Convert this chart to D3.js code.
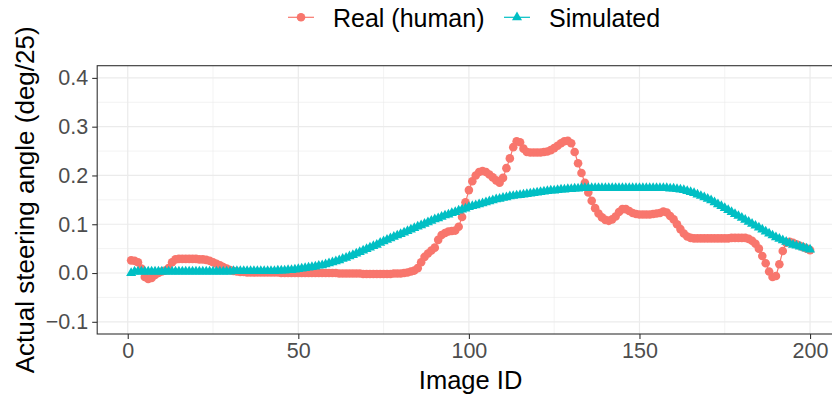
<!DOCTYPE html>
<html>
<head>
<meta charset="utf-8">
<script src="https://cdn.jsdelivr.net/npm/d3@7"></script>
<style>
  body { margin: 0; background: #fff; }
  text { font-family: "Liberation Sans", Arial, Helvetica, sans-serif; }
</style>
</head>
<body>
<div id="chart"></div>
<script>
// image ids 1..200
var imageIds = d3.range(1, 201);

var realSteer = [
  0.026, 0.025, 0.022, 0.009, -0.008, -0.012, -0.010, -0.004, 0.000, 0.003,
  0.005, 0.010, 0.022, 0.028, 0.029, 0.029, 0.029, 0.029, 0.029, 0.029,
  0.028, 0.028, 0.027, 0.025, 0.022, 0.019, 0.016, 0.012, 0.009, 0.006,
  0.004, 0.003, 0.002, 0.002, 0.001, 0.001, 0.001, 0.001, 0.001, 0.001,
  0.001, 0.001, 0.001, 0.001, 0.000, 0.000, 0.000, 0.000, 0.000, 0.000,
  0.000, 0.000, 0.000, 0.000, 0.000, 0.000, 0.000, 0.000, 0.000, 0.000,
  0.000, -0.001, -0.001, -0.001, -0.001, -0.001, -0.001, -0.001, -0.002, -0.002,
  -0.002, -0.002, -0.002, -0.002, -0.002, -0.002, -0.002, -0.001, -0.001, -0.001,
  0.000, 0.001, 0.003, 0.005, 0.010, 0.022, 0.033, 0.040, 0.046, 0.052,
  0.068, 0.078, 0.082, 0.085, 0.086, 0.087, 0.095, 0.115, 0.145, 0.170,
  0.188, 0.200, 0.207, 0.209, 0.207, 0.202, 0.196, 0.190, 0.185, 0.195,
  0.215, 0.235, 0.258, 0.270, 0.268, 0.255, 0.248, 0.247, 0.247, 0.247,
  0.247, 0.248, 0.249, 0.252, 0.256, 0.261, 0.266, 0.270, 0.271, 0.266,
  0.248, 0.225, 0.205, 0.185, 0.165, 0.148, 0.133, 0.122, 0.114, 0.109,
  0.107, 0.110, 0.116, 0.125, 0.131, 0.131, 0.127, 0.123, 0.121, 0.120,
  0.120, 0.120, 0.120, 0.121, 0.122, 0.123, 0.126, 0.124, 0.117, 0.110,
  0.100, 0.090, 0.081, 0.075, 0.072, 0.071, 0.071, 0.071, 0.071, 0.071,
  0.071, 0.071, 0.071, 0.071, 0.071, 0.071, 0.072, 0.072, 0.072, 0.072,
  0.072, 0.070, 0.066, 0.060, 0.050, 0.035, 0.020, 0.003, -0.008, -0.006,
  0.018, 0.045, 0.062, 0.064, 0.062, 0.059, 0.056, 0.053, 0.050, 0.047
];

var simSteer = [
  0.000, 0.003, 0.003, 0.003, 0.003, 0.003, 0.003, 0.003, 0.003, 0.003,
  0.003, 0.003, 0.003, 0.003, 0.003, 0.003, 0.003, 0.003, 0.003, 0.003,
  0.003, 0.003, 0.003, 0.003, 0.003, 0.003, 0.003, 0.003, 0.003, 0.003,
  0.004, 0.004, 0.004, 0.004, 0.004, 0.004, 0.004, 0.004, 0.004, 0.004,
  0.004, 0.004, 0.004, 0.005, 0.005, 0.005, 0.006, 0.006, 0.007, 0.008,
  0.009, 0.010, 0.011, 0.012, 0.013, 0.015, 0.016, 0.018, 0.020, 0.022,
  0.024, 0.026, 0.029, 0.031, 0.034, 0.037, 0.040, 0.043, 0.046, 0.049,
  0.052, 0.055, 0.058, 0.062, 0.065, 0.068, 0.071, 0.074, 0.077, 0.080,
  0.083, 0.086, 0.089, 0.092, 0.095, 0.098, 0.101, 0.104, 0.107, 0.110,
  0.112, 0.115, 0.118, 0.120, 0.123, 0.125, 0.128, 0.130, 0.132, 0.135,
  0.137, 0.139, 0.141, 0.143, 0.145, 0.147, 0.149, 0.151, 0.152, 0.154,
  0.155, 0.157, 0.158, 0.159, 0.160, 0.161, 0.162, 0.163, 0.164, 0.165,
  0.166, 0.167, 0.168, 0.169, 0.169, 0.170, 0.171, 0.171, 0.172, 0.172,
  0.173, 0.173, 0.174, 0.174, 0.174, 0.174, 0.174, 0.174, 0.174, 0.174,
  0.174, 0.174, 0.174, 0.174, 0.174, 0.174, 0.174, 0.174, 0.174, 0.174,
  0.174, 0.174, 0.174, 0.174, 0.174, 0.174, 0.174, 0.174, 0.173, 0.173,
  0.172, 0.171, 0.170, 0.168, 0.166, 0.164, 0.161, 0.158, 0.155, 0.152,
  0.149, 0.145, 0.141, 0.137, 0.133, 0.129, 0.125, 0.121, 0.117, 0.113,
  0.109, 0.105, 0.101, 0.097, 0.093, 0.089, 0.085, 0.081, 0.077, 0.073,
  0.070, 0.067, 0.064, 0.061, 0.058, 0.056, 0.054, 0.052, 0.050, 0.048
];

var seriesNames = ["Real (human)", "Simulated"];
var seriesColors = ["#F8766D", "#00BFC4"];

var xTicks = [0, 50, 100, 150, 200];
var xMinor = [25, 75, 125, 175];
var yTicks = [-0.1, 0, 0.1, 0.2, 0.3, 0.4];
var yTickLabels = ["\u22120.1", "0.0", "0.1", "0.2", "0.3", "0.4"];
var yMinor = [-0.05, 0.05, 0.15, 0.25, 0.35];

var W = 832, H = 401;
var pLeft = 97.2, pRight = 844, pTop = 65.7, pBottom = 334;

var x = d3.scaleLinear().domain([-8.95, 209.95]).range([pLeft, pRight]);
var y = d3.scaleLinear().domain([-0.125, 0.425]).range([pBottom, pTop]);

var svg = d3.select("#chart").append("svg")
  .attr("width", W)
  .attr("height", H);

svg.append("rect").attr("width", W).attr("height", H).attr("fill", "#fff");

// grid
var grid = svg.append("g");
grid.selectAll(".ymin").data(yMinor).enter().append("line")
  .attr("x1", pLeft).attr("x2", pRight)
  .attr("y1", function(d) { return y(d); }).attr("y2", function(d) { return y(d); })
  .attr("stroke", "#EBEBEB").attr("stroke-width", 0.6);
grid.selectAll(".xmin").data(xMinor).enter().append("line")
  .attr("y1", pTop).attr("y2", pBottom)
  .attr("x1", function(d) { return x(d); }).attr("x2", function(d) { return x(d); })
  .attr("stroke", "#EBEBEB").attr("stroke-width", 0.6);
grid.selectAll(".ymaj").data(yTicks).enter().append("line")
  .attr("x1", pLeft).attr("x2", pRight)
  .attr("y1", function(d) { return y(d); }).attr("y2", function(d) { return y(d); })
  .attr("stroke", "#EBEBEB").attr("stroke-width", 1.2);
grid.selectAll(".xmaj").data(xTicks).enter().append("line")
  .attr("y1", pTop).attr("y2", pBottom)
  .attr("x1", function(d) { return x(d); }).attr("x2", function(d) { return x(d); })
  .attr("stroke", "#EBEBEB").attr("stroke-width", 1.2);

var series = [realSteer, simSteer];

// lines first, then points (like ggplot layers)
var line = d3.line()
  .x(function(d, i) { return x(imageIds[i]); })
  .y(function(d) { return y(d); });

series.forEach(function(vals, k) {
  svg.append("path")
    .datum(vals)
    .attr("d", line)
    .attr("fill", "none")
    .attr("stroke", seriesColors[k])
    .attr("stroke-width", 1.2);
});

svg.append("g").selectAll("circle")
  .data(realSteer)
  .enter()
  .append("circle")
  .attr("cx", function(d, i) { return x(imageIds[i]); })
  .attr("cy", function(d) { return y(d); })
  .attr("r", 4.3)
  .attr("fill", seriesColors[0]);

var tri = d3.symbol().type(d3.symbolTriangle).size(44);
svg.append("g").selectAll("path")
  .data(simSteer)
  .enter()
  .append("path")
  .attr("d", tri)
  .attr("transform", function(d, i) { return "translate(" + x(imageIds[i]) + "," + y(d) + ")"; })
  .attr("fill", seriesColors[1]);

// panel border
svg.append("rect")
  .attr("x", pLeft).attr("y", pTop)
  .attr("width", pRight - pLeft).attr("height", pBottom - pTop)
  .attr("fill", "none").attr("stroke", "#333333").attr("stroke-width", 1.1);

// axes
var xAxis = svg.append("g").attr("transform", "translate(0," + pBottom + ")")
  .call(d3.axisBottom(x).tickValues(xTicks).tickSize(5).tickPadding(4).tickFormat(d3.format("d")));
var yAxis = svg.append("g").attr("transform", "translate(" + pLeft + ",0)")
  .call(d3.axisLeft(y).tickValues(yTicks).tickSize(5).tickPadding(4)
    .tickFormat(function(d, i) { return yTickLabels[i]; }));

[xAxis, yAxis].forEach(function(a) {
  a.select(".domain").remove();
  a.selectAll(".tick line").attr("stroke", "#333333").attr("stroke-width", 1.1);
  a.selectAll(".tick text")
    .attr("fill", "#4D4D4D")
    .style("font-size", "21.5px")
    .style("font-family", "'Liberation Sans', Arial, sans-serif");
});

// axis titles
svg.append("text")
  .attr("x", (pLeft + pRight) / 2)
  .attr("y", 389)
  .attr("text-anchor", "middle")
  .style("font-size", "25.5px")
  .attr("fill", "#000")
  .text("Image ID");

svg.append("text")
  .attr("transform", "translate(33.5," + ((pTop + pBottom) / 2) + ") rotate(-90)")
  .attr("text-anchor", "middle")
  .style("font-size", "26px")
  .attr("fill", "#000")
  .text("Actual steering angle (deg/25)");

// legend
var legendX = [288, 504];
var legend = svg.append("g");
seriesNames.forEach(function(name, k) {
  var lx = legendX[k];
  legend.append("line")
    .attr("x1", lx).attr("x2", lx + 26)
    .attr("y1", 17.3).attr("y2", 17.3)
    .attr("stroke", seriesColors[k]).attr("stroke-width", 1.2);
  if (k === 0) {
    legend.append("circle").attr("cx", lx + 13).attr("cy", 17.3).attr("r", 4.3)
      .attr("fill", seriesColors[k]);
  } else {
    legend.append("path").attr("d", tri)
      .attr("transform", "translate(" + (lx + 13) + ",17.3)")
      .attr("fill", seriesColors[k]);
  }
  legend.append("text")
    .attr("x", lx + 45)
    .attr("y", 26.5)
    .style("font-size", "25px")
    .attr("fill", "#000")
    .text(name);
});
</script>
</body>
</html>
